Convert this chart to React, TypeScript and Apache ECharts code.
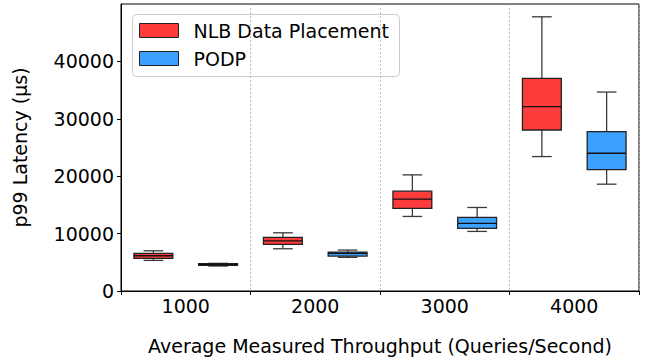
import React, { useEffect, useRef } from "react";
import * as echarts from "echarts";

const categories = ["1000", "2000", "3000", "4000"];
const seriesNames = ["NLB Data Placement", "PODP"];
const seriesColors = ["#ff3c3c", "#3ca0ff"];
// [low whisker, Q1, median, Q3, high whisker]
const nlbBoxes = [
  [5330, 5680, 6140, 6550, 7010],
  [7360, 8120, 8750, 9330, 10140],
  [12990, 14380, 16000, 17390, 20230],
  [23420, 28050, 32120, 37040, 47770],
];
const podpBoxes = [
  [4350, 4480, 4620, 4760, 4820],
  [5860, 6090, 6550, 6780, 7130],
  [10380, 10900, 11770, 12810, 14550],
  [18610, 21160, 24000, 27770, 34660],
];
const yTicks = [0, 10000, 20000, 30000, 40000, 50000];
const FONT = "DejaVu Sans";

function makeSeries(name: string, boxes: number[][], color: string, offset: number) {
  return {
    type: "custom",
    name,
    data: boxes.map((b, i) => [i, ...b]),
    encode: { x: 0, y: [1, 2, 3, 4, 5] },
    renderItem: (params: any, api: any) => {
      const cat = api.value(0);
      const low = api.value(1);
      const q1 = api.value(2);
      const med = api.value(3);
      const q3 = api.value(4);
      const high = api.value(5);
      const band = api.size([1, 0])[0];
      const cx = api.coord([cat, 0])[0] + offset * band;
      const halfW = band * 0.15;
      const capHalf = band * 0.076;
      const y = (v: number) => api.coord([cat, v])[1];
      const wStyle = { stroke: "#3a3a3a", lineWidth: 1.3 };
      return {
        type: "group",
        children: [
          { type: "line", shape: { x1: cx, y1: y(high), x2: cx, y2: y(q3) }, style: wStyle },
          { type: "line", shape: { x1: cx, y1: y(low), x2: cx, y2: y(q1) }, style: wStyle },
          { type: "line", shape: { x1: cx - capHalf, y1: y(high), x2: cx + capHalf, y2: y(high) }, style: wStyle },
          { type: "line", shape: { x1: cx - capHalf, y1: y(low), x2: cx + capHalf, y2: y(low) }, style: wStyle },
          {
            type: "rect",
            shape: { x: cx - halfW, y: y(q3), width: 2 * halfW, height: y(q1) - y(q3) },
            style: { fill: color, stroke: "#222", lineWidth: 1.3 },
          },
          {
            type: "line",
            shape: { x1: cx - halfW, y1: y(med), x2: cx + halfW, y2: y(med) },
            style: { stroke: "#111", lineWidth: 1.3 },
          },
        ],
      };
    },
  };
}

export default function App() {
  const ref = useRef<HTMLDivElement>(null);
  useEffect(() => {
    document.body.style.margin = "0";
    if (!ref.current) return;
    const chart = echarts.init(ref.current, undefined, { renderer: "svg" });
    const legendX = 132;
    const legendY = 14;
    chart.setOption({
      animation: false,
      grid: {
        left: 121,
        right: 12,
        top: 4,
        bottom: 71,
        show: true,
        borderColor: "#000",
        borderWidth: 1,
        backgroundColor: "transparent",
      },
      xAxis: {
        type: "category",
        data: categories,
        boundaryGap: true,
        name: "Average Measured Throughput (Queries/Second)",
        nameLocation: "middle",
        nameGap: 45,
        nameTextStyle: { fontFamily: FONT, fontSize: 19, color: "#000" },
        axisLine: { lineStyle: { color: "#000", width: 1 } },
        axisTick: { show: true, length: 4, lineStyle: { color: "#000" } },
        axisLabel: { fontFamily: FONT, fontSize: 19, color: "#000", margin: 5 },
        splitLine: { show: true, lineStyle: { color: "#b0b0b0", type: [2, 2], width: 0.8 } },
      },
      yAxis: {
        type: "value",
        min: yTicks[0],
        max: yTicks[yTicks.length - 1],
        interval: 10000,
        name: "p99 Latency (µs)",
        nameLocation: "middle",
        nameGap: 92,
        nameTextStyle: { fontFamily: FONT, fontSize: 19, color: "#000" },
        axisLine: { show: true, lineStyle: { color: "#000", width: 1 } },
        axisTick: { show: true, length: 4, lineStyle: { color: "#000" } },
        axisLabel: {
          fontFamily: FONT,
          fontSize: 19,
          color: "#000",
          margin: 7,
          showMaxLabel: false,
          formatter: (v: number) => String(v),
        },
        splitLine: { show: false },
      },
      series: [
        makeSeries(seriesNames[0], nlbBoxes, seriesColors[0], -0.25),
        makeSeries(seriesNames[1], podpBoxes, seriesColors[1], 0.25),
      ],
      graphic: [
        {
          type: "group",
          left: legendX,
          top: legendY,
          z: 100,
          children: [
            {
              type: "rect",
              shape: { x: 0, y: 0, width: 267, height: 62, r: 4 },
              style: { fill: "rgba(255,255,255,0.8)", stroke: "#cccccc", lineWidth: 1 },
            },
            ...seriesNames.flatMap((n, i) => [
              {
                type: "rect",
                shape: { x: 7, y: 9 + i * 28, width: 39, height: 14 },
                style: { fill: seriesColors[i], stroke: "#222", lineWidth: 1 },
              },
              {
                type: "text",
                x: 61,
                y: 16 + i * 28,
                style: {
                  text: n,
                  fontFamily: FONT,
                  fontSize: 19,
                  fill: "#000",
                  verticalAlign: "middle",
                  align: "left",
                },
              },
            ]),
          ],
        },
      ],
    });
    return () => chart.dispose();
  }, []);
  return <div ref={ref} style={{ width: 651, height: 362 }} />;
}
